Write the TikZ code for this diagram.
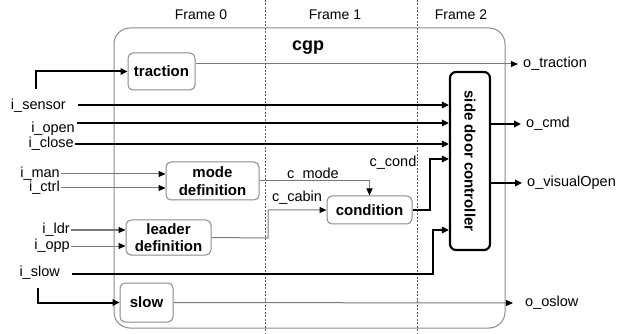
\documentclass[tikz,border=0pt]{standalone}
\usepackage{fontspec}
\setmainfont{Liberation Sans}
\usetikzlibrary{arrows.meta,calc}
\definecolor{boxgray}{HTML}{8A8A8A}
\definecolor{wiregray}{HTML}{7A7A7A}
\definecolor{framegray}{HTML}{5A5A5A}
\begin{document}
\begin{tikzpicture}[x=1pt,y=-1pt,
  lbl/.style={font=\fontsize{14.5}{16}\selectfont, inner sep=1pt},
  framelbl/.style={font=\fontsize{14}{16}\selectfont, inner sep=1pt},
  blk/.style={draw=boxgray, line width=1pt, rounded corners=5pt, align=center,
    font=\bfseries\fontsize{15}{17.5}\selectfont, inner sep=0pt},
  ctrlblk/.style={draw=black, line width=2.2pt, rounded corners=6pt,
    font=\bfseries\fontsize{15}{17}\selectfont, inner sep=0pt},
  thinarr/.style={draw=wiregray, line width=1pt,
    -{Triangle[length=7pt,width=6pt,color=black]}},
  thickarr/.style={draw=black, line width=2pt,
    -{Triangle[length=7pt,width=6.5pt]}},
  frameline/.style={draw=framegray, line width=0.7pt, dash pattern=on 2pt off 1.5pt},
]
\useasboundingbox (0,0) rectangle (619,334);

% enclosing component
\node[draw=boxgray, line width=1pt, rounded corners=16pt, minimum width=391pt,
      minimum height=300pt, inner sep=0pt] (cgp) at (309.5,178) {};
\node[font=\bfseries\fontsize{18}{18}\selectfont, inner sep=0pt] (cgpname) at (308,48) {cgp};

% frame boundaries
\coordinate (fa) at (265,0);
\coordinate (fb) at (417,0);
\draw[frameline] (fa) -- ++(0,334);
\draw[frameline] (fb) -- ++(0,334);
\node[framelbl] (fr0) at (201,15) {Frame 0};
\node[framelbl] (fr1) at (335,15) {Frame 1};
\node[framelbl] (fr2) at (461,15) {Frame 2};

% blocks
\node[blk, minimum width=67pt, minimum height=37pt] (traction) at (161.5,71.5) {traction};
\node[blk, minimum width=93pt, minimum height=38pt] (mode) at (212.5,181) {mode\\definition};
\node[blk, minimum width=85pt, minimum height=35pt] (leader) at (168.5,237.5) {leader\\definition};
\node[blk, minimum width=85pt, minimum height=28pt] (condition) at (369.5,210) {condition};
\node[blk, minimum width=53pt, minimum height=39pt] (slow) at (146.5,302.5) {slow};
\node[ctrlblk, minimum width=40pt, minimum height=178pt] (ctrl) at (470,161)
  {\rotatebox{-90}{side door controller}};

% input labels
\node[lbl, anchor=east] (isensor) at (67,106) {i\_sensor};
\node[lbl, anchor=east] (iopen) at (76,129) {i\_open};
\node[lbl, anchor=east] (iclose) at (75,144) {i\_close};
\node[lbl, anchor=east] (iman) at (61,174) {i\_man};
\node[lbl, anchor=east] (ictrl) at (61,188) {i\_ctrl};
\node[lbl, anchor=east] (ildr) at (71,230) {i\_ldr};
\node[lbl, anchor=east] (iopp) at (71,246) {i\_opp};
\node[lbl, anchor=east] (islow) at (61,273) {i\_slow};

% output labels
\node[lbl, anchor=west] (otrac) at (522,64) {o\_traction};
\node[lbl, anchor=west] (ocmd) at (525,124) {o\_cmd};
\node[lbl, anchor=west] (ovis) at (526,183) {o\_visualOpen};
\node[lbl, anchor=west] (oslow) at (524,303) {o\_oslow};

% internal signal labels
\node[lbl] (cmodelbl) at (313,175) {c\_mode};
\node[lbl] (ccabinlbl) at (297,198) {c\_cabin};
\node[lbl] (ccondlbl) at (393,163) {c\_cond};

% wire end points and bends
\coordinate (strac) at (36,89);
\coordinate (ssensor) at (78,105);
\coordinate (sopen) at (77,123);
\coordinate (sslow) at (72,274);
\coordinate (sslowbox) at (38,288);
\coordinate (cabinbend) at (268,238);
\coordinate (condbend) at (430,159);
\coordinate (slowbend) at (433,230);
\coordinate (ttrac) at (518,64);
\coordinate (tcmd) at (521,124);
\coordinate (tvis) at (522,183);
\coordinate (toslow) at (513,303);

% thick wires
\draw[thickarr] (strac) |- (traction.west);
\draw[thickarr] (ssensor) -- (ssensor -| ctrl.west);
\draw[thickarr] (sopen) -- (sopen -| ctrl.west);
\draw[thickarr] (iclose.east) -- (iclose.east -| ctrl.west);
\draw[thickarr] (condition.east) -| (condbend) -- (condbend -| ctrl.west);
\draw[thickarr] (sslow) -| (slowbend) -- (slowbend -| ctrl.west);
\draw[thickarr] (sslowbox) |- (slow.west);
\draw[thickarr] (ctrl.east |- tcmd) -- (tcmd);
\draw[thickarr] (ctrl.east |- tvis) -- (tvis);

% thin wires
\draw[thinarr] (iman.east) -- (iman.east -| mode.west);
\draw[thinarr] (ictrl.east) -- (ictrl.east -| mode.west);
\draw[thinarr] (ildr.east) -- (ildr.east -| leader.west);
\draw[thinarr] (iopp.east) -- (iopp.east -| leader.west);
\draw[thinarr] (mode.east) -| (condition.north);
\draw[thinarr] (leader.east) -- (cabinbend) |- (condition.west);
\draw[thinarr] (traction.east |- ttrac) -- (ttrac);
\draw[thinarr] (slow.east) -- (toslow);
\end{tikzpicture}
\end{document}
